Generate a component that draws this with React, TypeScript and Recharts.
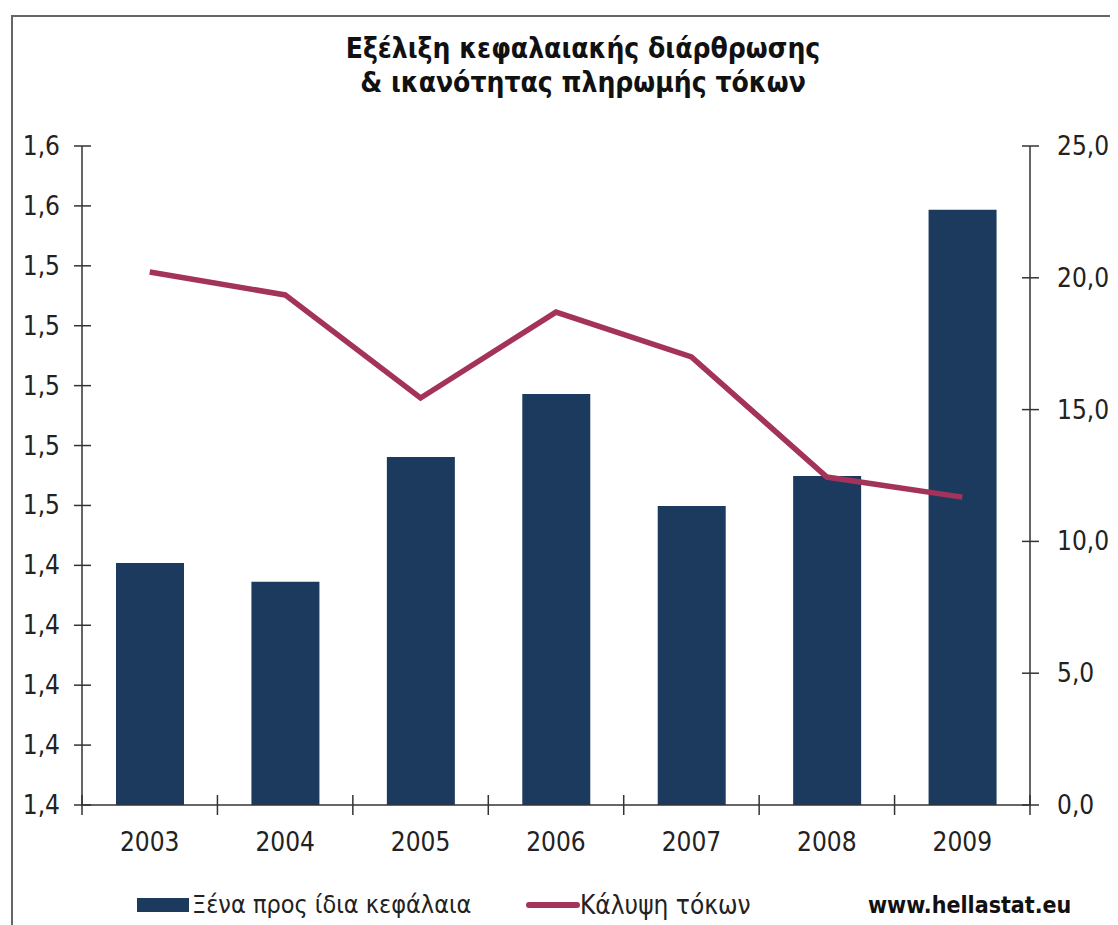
import React from 'react';
import { ComposedChart, Bar, Line, XAxis, YAxis } from 'recharts';

const years = ['2003', '2004', '2005', '2006', '2007', '2008', '2009'];
const debtToEquity = [1.4408, 1.4345, 1.4762, 1.4972, 1.4598, 1.4698, 1.5587];
const interestCoverage = [20.22, 19.35, 15.44, 18.7, 17.0, 12.44, 11.68];
const leftTicks = [1.36, 1.38, 1.4, 1.42, 1.44, 1.46, 1.48, 1.5, 1.52, 1.54, 1.56, 1.58];
const rightTicks = [0, 5, 10, 15, 20, 25];

const titleLines = ['Εξέλιξη κεφαλαιακής διάρθρωσης', '& ικανότητας πληρωμής τόκων'];
const barName = 'Ξένα προς ίδια κεφάλαια';
const lineName = 'Κάλυψη τόκων';
const sourceText = 'www.hellastat.eu';

const data = years.map((y, i) => ({ year: y, bar: debtToEquity[i], line: interestCoverage[i] }));

const BAR_COLOR = '#1c3a5e';
const LINE_COLOR = '#a3335a';
const AXIS_COLOR = '#333';
const TEXT_COLOR = '#222';
const FONT = "'DejaVu Sans Condensed', 'DejaVu Sans', sans-serif";

const fmt = (v: number) => v.toFixed(1).replace('.', ',');

const LeftTick = (props: any) => {
  const { x, y, payload } = props;
  return (
    <g>
      <line x1={x - 8} x2={x + 9} y1={y} y2={y} stroke={AXIS_COLOR} strokeWidth={1.5} />
      <text x={x - 22} y={y} dy={9} textAnchor="end" fontSize={26} fill={TEXT_COLOR} fontFamily={FONT}>
        {fmt(payload.value)}
      </text>
    </g>
  );
};

const RightTick = (props: any) => {
  const { x, y, payload } = props;
  return (
    <g>
      <line x1={x - 8} x2={x + 9} y1={y} y2={y} stroke={AXIS_COLOR} strokeWidth={1.5} />
      <text x={x + 27} y={y} dy={9} textAnchor="start" fontSize={26} fill={TEXT_COLOR} fontFamily={FONT}>
        {fmt(payload.value)}
      </text>
    </g>
  );
};

const XTick = (props: any) => {
  const { x, y, payload, index, width, visibleTicksCount } = props;
  const band = width / visibleTicksCount;
  const isLast = index === visibleTicksCount - 1;
  return (
    <g>
      <line x1={x - band / 2} x2={x - band / 2} y1={y - 10} y2={y + 10} stroke={AXIS_COLOR} strokeWidth={1.5} />
      {isLast && (
        <line x1={x + band / 2} x2={x + band / 2} y1={y - 10} y2={y + 10} stroke={AXIS_COLOR} strokeWidth={1.5} />
      )}
      <text x={x} y={y} dy={46} textAnchor="middle" fontSize={26} fill={TEXT_COLOR} fontFamily={FONT}>
        {payload.value}
      </text>
    </g>
  );
};

export default function App() {
  return (
    <div style={{ position: 'relative', width: 1110, height: 917, background: '#fff', overflow: 'hidden' }}>
      <div
        style={{
          position: 'absolute',
          left: 3,
          top: 7,
          width: 1101,
          height: 960,
          borderTop: '2px solid #666',
          borderLeft: '2px solid #666',
          borderRight: '2px solid #aaa',
        }}
      />
      <div
        style={{
          position: 'absolute',
          left: 275,
          top: 24,
          width: 600,
          textAlign: 'center',
          fontFamily: FONT,
          fontWeight: 'bold',
          fontSize: 28,
          lineHeight: '34px',
          color: '#111',
        }}
      >
        {titleLines.map((t) => (
          <div key={t}>{t}</div>
        ))}
      </div>
      <ComposedChart
        width={1110}
        height={910}
        data={data}
        margin={{ top: 138, right: 0, left: 0, bottom: 73 }}
        style={{ position: 'absolute', left: 0, top: 0 }}
      >
        <XAxis
          dataKey="year"
          height={40}
          tickLine={false}
          tickSize={0}
          tickMargin={0}
          axisLine={{ stroke: AXIS_COLOR, strokeWidth: 1.5 }}
          tick={<XTick />}
          interval={0}
        />
        <YAxis
          yAxisId="left"
          orientation="left"
          width={74}
          domain={[1.36, 1.58]}
          ticks={leftTicks}
          allowDataOverflow
          tickLine={false}
          tickSize={0}
          tickMargin={0}
          axisLine={{ stroke: AXIS_COLOR, strokeWidth: 1.5 }}
          tick={<LeftTick />}
          interval={0}
        />
        <YAxis
          yAxisId="right"
          orientation="right"
          width={88}
          domain={[0, 25]}
          ticks={rightTicks}
          tickLine={false}
          tickSize={0}
          tickMargin={0}
          axisLine={{ stroke: AXIS_COLOR, strokeWidth: 1.5 }}
          tick={<RightTick />}
          interval={0}
        />
        <Bar yAxisId="left" dataKey="bar" name={barName} fill={BAR_COLOR} barSize={68} isAnimationActive={false} />
        <Line
          yAxisId="right"
          dataKey="line"
          name={lineName}
          type="linear"
          stroke={LINE_COLOR}
          strokeWidth={5.5}
          dot={false}
          activeDot={false}
          isAnimationActive={false}
        />
      </ComposedChart>
      <div style={{ position: 'absolute', left: 129, top: 890, width: 52, height: 14, background: BAR_COLOR }} />
      <div
        style={{
          position: 'absolute',
          left: 184,
          top: 882,
          fontFamily: FONT,
          fontSize: 25,
          lineHeight: '30px',
          color: TEXT_COLOR,
          whiteSpace: 'nowrap',
        }}
      >
        {barName}
      </div>
      <div style={{ position: 'absolute', left: 518, top: 894, width: 54, height: 6, borderRadius: 3, background: LINE_COLOR }} />
      <div
        style={{
          position: 'absolute',
          left: 572,
          top: 882,
          fontFamily: FONT,
          fontSize: 26,
          lineHeight: '30px',
          color: TEXT_COLOR,
          whiteSpace: 'nowrap',
        }}
      >
        {lineName}
      </div>
      <div
        style={{
          position: 'absolute',
          left: 860,
          top: 882,
          fontFamily: FONT,
          fontWeight: 'bold',
          fontSize: 23,
          lineHeight: '30px',
          color: '#111',
          whiteSpace: 'nowrap',
        }}
      >
        {sourceText}
      </div>
    </div>
  );
}
